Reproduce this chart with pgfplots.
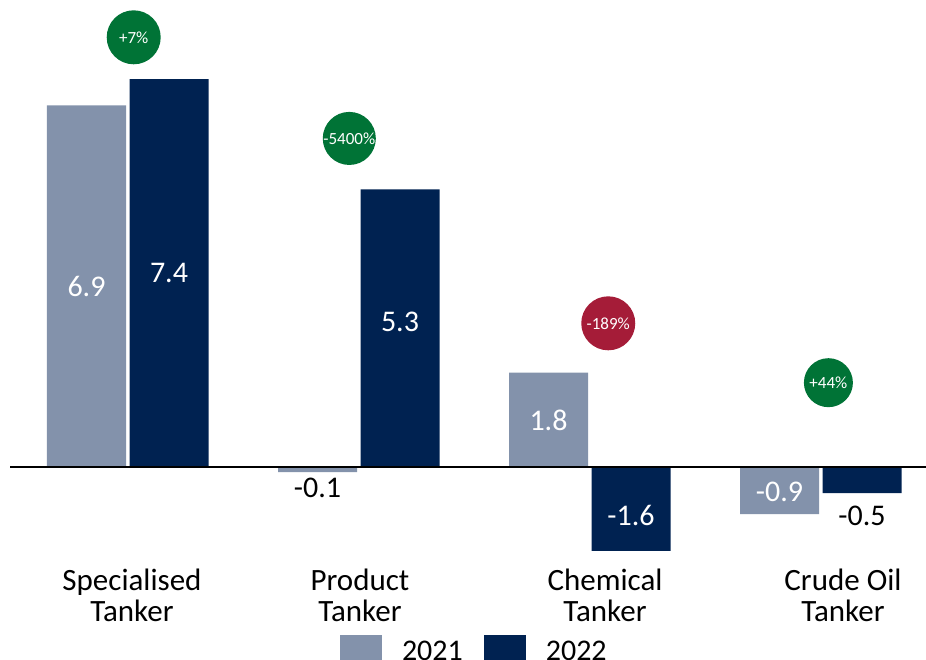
\documentclass[border=0pt]{standalone}
\usepackage{pgfplots}
\pgfplotsset{compat=1.18}
\usepackage{pgfplotstable}
\usepackage{fontspec}
\setmainfont{Carlito}

\definecolor{c21}{RGB}{131,146,171}
\definecolor{c22}{RGB}{0,34,81}
\definecolor{cup}{RGB}{0,115,54}
\definecolor{cdown}{RGB}{165,28,56}

% values per segment; dy moves the value label, w is its whiteness (100 white, 0 black)
\pgfplotstableread{
x y dy w
0 6.9 -180.6 100
1 -0.1 -16.1 0
2 1.8 -47.3 100
3 -0.9 22.5 100
}\tblA
\pgfplotstableread{
x y dy w
0 7.4 -193.8 100
1 5.3 -132.4 100
2 -1.6 35.8 100
3 -0.5 -22.8 0
}\tblB

\begin{document}
\begin{tikzpicture}
\begin{axis}[
  scale only axis, width=926pt, height=659pt,
  xmin=-0.5541, xmax=3.4545, ymin=-3.664, ymax=8.912,
  axis line style={draw=none},
  ytick=\empty,
  xtick={0.0173,1.0043,2.0649,3.0952},
  xticklabels={Specialised\\Tanker, Product\\Tanker, Chemical\\Tanker, Crude Oil\\Tanker},
  major tick length=0pt,
  xticklabel style={align=center, anchor=base, yshift=38pt, inner sep=0pt,
    font=\fontsize{31}{31}\selectfont},
  clip=false,
  legend columns=2,
  legend cell align=left,
  legend style={at={(rel axis cs:0.3672,0.0364)}, anchor=north west,
    draw=none, fill=none, inner sep=0pt, outer sep=0pt,
    font=\fontsize{30}{30}\selectfont, nodes={inner sep=0pt},
    /tikz/every odd column/.append style={column sep=20pt},
    /tikz/every even column/.append style={column sep=21pt}},
  bar label/.style={
    nodes near coords, point meta=explicit symbolic,
    visualization depends on={\thisrow{dy} \as \dy},
    visualization depends on={\thisrow{w} \as \w},
    every node near coord/.append style={anchor=center, xshift=#1, yshift=\dy pt,
      text=white!\w!black, font=\fontsize{30}{30}\selectfont}},
  pct/.style={forget plot, only marks, mark=*, mark options={draw=none, fill=none},
    nodes near coords, point meta=explicit symbolic,
    every node near coord/.append style={anchor=center, circle, fill=#1,
      text=white, inner sep=0pt, font=\fontsize{17}{17}\selectfont}},
]
\coordinate (bbA) at (rel axis cs:0,0);
\coordinate (bbB) at (rel axis cs:1,1);

\addplot[ybar, bar width=79pt, bar shift=-41.5pt, fill=c21, draw=none, bar label=-41.5pt,
  legend image code/.code={\fill[c21] (0pt,-22pt) rectangle (42pt,20pt);}]
  table[x=x, y=y, meta=y] {\tblA};
\addlegendentry{\raisebox{6pt}{2021}}
\addplot[ybar, bar width=79pt, bar shift=41pt, fill=c22, draw=none, bar label=41pt,
  legend image code/.code={\fill[c22] (0pt,-22pt) rectangle (42pt,20pt);}]
  table[x=x, y=y, meta=y] {\tblB};
\addlegendentry{\raisebox{6pt}{2022}}

% zero line
\addplot[forget plot, black, line width=1.5pt] coordinates {(-0.5108,0) (3.4545,0)};

% year-on-year change badges
\addplot[pct=cup, every node near coord/.append style={minimum size=54pt}]
  coordinates {(0.0247,8.20) [+7\%]};
\addplot[pct=cup, every node near coord/.append style={minimum size=49pt}]
  coordinates {(0.958,6.27) [-5400\%] (3.032,1.609) [+44\%]};
\addplot[pct=cdown, every node near coord/.append style={minimum size=54pt}]
  coordinates {(2.079,2.742) [-189\%]};
\end{axis}
\pgfresetboundingbox
\path[use as bounding box] (bbA) rectangle (bbB);
\end{tikzpicture}
\end{document}
